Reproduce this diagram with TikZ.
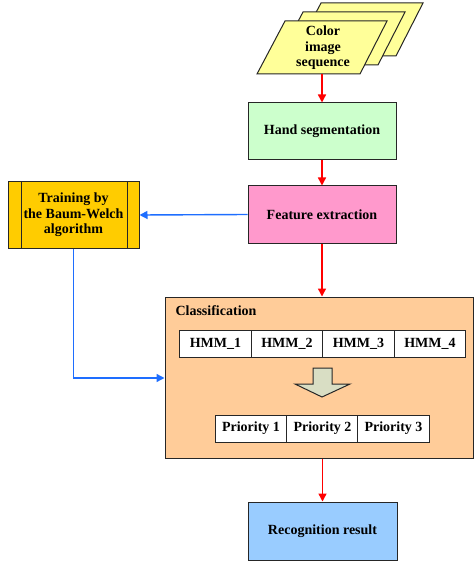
\documentclass[tikz,border=0pt]{standalone}
\usepackage{fontspec}
\setmainfont{Liberation Serif}
\usetikzlibrary{arrows.meta}
\definecolor{cyel}{HTML}{FFFF99}
\definecolor{cgreen}{HTML}{CCFFCC}
\definecolor{cpink}{HTML}{FF99CC}
\definecolor{cgold}{HTML}{FFCC00}
\definecolor{cpeach}{HTML}{FFCC99}
\definecolor{cblue}{HTML}{99CCFF}
\definecolor{cline}{HTML}{1E6EFF}
\definecolor{cdown}{HTML}{D9DEC4}
\tikzset{
  txt/.style={font=\bfseries\fontsize{14}{15.5}\selectfont},
  box/.style={draw=black!85, line width=1pt, inner sep=0pt, txt, align=center},
  cell/.style={draw=black!85, line width=1pt, fill=white, inner sep=0pt, txt},
  redarr/.style={red, line width=1.4pt, -{Triangle[length=8pt,width=8pt]}},
  bluearr/.style={cline, line width=1.4pt, -{Triangle[length=8pt,width=8pt]}},
}
\begin{document}
\begin{tikzpicture}[x=1pt,y=-1pt]
\useasboundingbox (0,0) rectangle (473,561);
% stack of parallelograms
\foreach \dx/\dy in {36/-18,18/-9}{
  \draw[fill=cyel, draw=black!85, line width=1pt] (285+\dx,21+\dy) -- (387+\dx,21+\dy) -- (360+\dx,74+\dy) -- (257+\dx,74+\dy) -- cycle;
}
\draw[fill=cyel, draw=black!85, line width=1pt] (285,21) -- (387,21) -- (360,74) -- (257,74) -- cycle;
\node[txt, align=center] (color) at (323,48) {Color\\image\\sequence};
\coordinate (colorbot) at (322,74);

\node[box, fill=cgreen, minimum width=148pt, minimum height=57pt] (hand) at (322,131.5) {Hand segmentation};
\node[box, fill=cpink, minimum width=148pt, minimum height=57pt] (feat) at (322,214.5) {Feature extraction};
\node[box, fill=cgold, minimum width=131pt, minimum height=66pt] (train) at (73.5,215) {Training by\\the Baum-Welch\\algorithm};
\draw[black!85, line width=1pt] (21,182) -- (21,248) (127,182) -- (127,248);

\node[box, fill=cpeach, minimum width=308pt, minimum height=161pt] (cls) at (319,377.5) {};
\node[anchor=west, txt] (clslab) at (172,311) {Classification};

\foreach \i/\x in {1/215.5,2/287,3/358.5,4/430}{
  \node[cell, minimum width=71.5pt, minimum height=27pt] (h\i) at (\x,343.5) {HMM\_\i};
}
\foreach \i/\x in {1/251,2/322.5,3/393.5}{
  \node[cell, minimum width=71.5pt, minimum height=27pt] (p\i) at (\x,428.5) {Priority \i};
}
\draw[fill=cdown, draw=black!85, line width=1pt] (313,368) -- (332,368) -- (332,384) -- (350,384) -- (322,397) -- (295,384) -- (313,384) -- cycle;

\node[box, fill=cblue, minimum width=149pt, minimum height=58pt] (rec) at (322.5,531) {Recognition result};

\draw[redarr] (colorbot) -- (hand.north);
\draw[redarr] (hand.south) -- (feat.south |- feat.north);
\draw[redarr] (feat.south) -- (feat.south |- cls.north);
\draw[redarr] (rec.north |- cls.south) -- (rec.north);
\draw[bluearr] (feat.west) -- (train.east);
\draw[bluearr] (train.south) |- (cls.west |- 0,378);
\end{tikzpicture}
\end{document}
